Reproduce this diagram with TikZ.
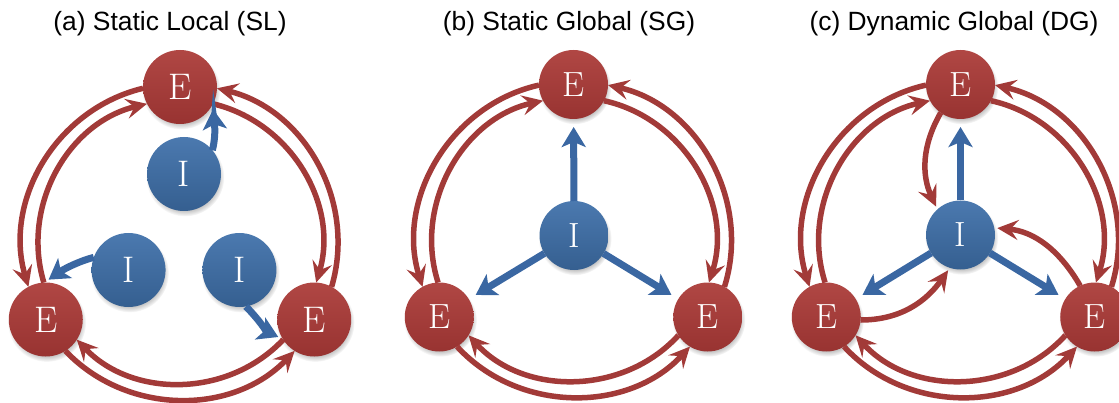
\documentclass[tikz,border=0pt]{standalone}
\usepackage{fontspec}
\newfontfamily\titlefont{Liberation Sans}
\usetikzlibrary{arrows.meta,shadows,fadings}
\definecolor{rtop}{HTML}{B04744}
\definecolor{rbot}{HTML}{983331}
\definecolor{btop}{HTML}{4B79AF}
\definecolor{bbot}{HTML}{355F90}
\definecolor{rl}{HTML}{A23A38}
\definecolor{bl}{HTML}{3A67A2}
\tikzset{
 nodebase/.style={circle, inner sep=0pt, outer sep=0pt, text=white,
   circular drop shadow={shadow xshift=1pt, shadow yshift=-3pt, shadow scale=1.06, opacity=0.45}},
 enode/.style={nodebase, top color=rtop, bottom color=rbot},
 inode/.style={nodebase, top color=btop, bottom color=bbot},
 bignode/.style={minimum size=74pt, font=\fontsize{37}{37}\selectfont},
 smallnode/.style={minimum size=69pt, font=\fontsize{35}{35}\selectfont},
 rline/.style={draw=rl, line width=5.5pt, -{Stealth[length=21pt,width=20pt,inset=8pt]}},
 bline/.style={draw=bl, line width=7pt, -{Stealth[length=20pt,width=24pt,inset=5pt]}},
 title/.style={font=\titlefont\fontsize{26.4}{30}\selectfont, anchor=base},
}
% double ring of arcs between the three E nodes of a panel
\newcommand\drawring[2]{%
  \pgfmathsetmacro\dO{acos((1.58*1.58+1.55*1.55-(#2/100)^2)/(2*1.58*1.55))}%
  \pgfmathsetmacro\aO{atan2(1.58*sin(\dO),1.58*cos(\dO)-1.55)}%
  \pgfmathsetmacro\dI{acos((1.42*1.42+1.55*1.55-(#2/100)^2)/(2*1.42*1.55))}%
  \pgfmathsetmacro\aI{atan2(1.42*sin(\dI),1.42*cos(\dI)-1.55)}%
  \foreach \k in {0,1,2}{%
    \pgfmathtruncatemacro\kk{mod(\k+1,3)}%
    \pgfmathtruncatemacro\th{90+120*\k}%
    \pgfmathtruncatemacro\sA{round(\th+\aO)}%
    \pgfmathtruncatemacro\eA{round(\th+120-\aO)}%
    \pgfmathsetmacro\oA{\th+\dO+90}%
    \pgfmathsetmacro\iA{\th+30-\dO}%
    \draw[rline] (#1E\k.\sA) to[out=\oA, in=\iA] (#1E\kk.\eA);
    \pgfmathtruncatemacro\sB{round(\th+120-\aI)}%
    \pgfmathtruncatemacro\eB{round(\th+\aI)}%
    \pgfmathsetmacro\oB{\th+30-\dI}%
    \pgfmathsetmacro\iB{\th+\dI+90}%
    \draw[rline] (#1E\kk.\sB) to[out=\oB, in=\iB] (#1E\k.\eB);
  }%
}
\begin{document}
\begin{tikzpicture}[x=1pt,y=1pt]
\useasboundingbox (0,0) rectangle (1119,402);
\clip (0,0) rectangle (1119,402);

% titles
\node[title] (ta) at (170,371) {(a) Static Local (SL)};
\node[title] (tb) at (569,371) {(b) Static Global (SG)};
\node[title] (tc) at (954,371) {(c) Dynamic Global (DG)};

% ---------- panel (a)
\begin{scope}[shift={(180,160)}]
  \foreach \k in {0,1,2}{\node[enode,bignode] (aE\k) at (90+120*\k:155) {E};}
\end{scope}
\begin{scope}[shift={(184,164)}]
  \foreach \k in {0,1,2}{\node[inode,bignode] (aI\k) at (90+120*\k:64) {I};}
\end{scope}
\drawring{a}{37}
\foreach \k in {0,1,2}{%
  \pgfmathtruncatemacro\th{90+120*\k}%
  \pgfmathtruncatemacro\sa{\th-50}%
  \pgfmathtruncatemacro\ea{\th-118}%
  \pgfmathtruncatemacro\oa{\th-15}%
  \pgfmathtruncatemacro\ia{\th+185}%
  \draw[bline, shorten >=5pt] (aI\k.\sa) to[out=\oa, in=\ia, looseness=0.9] (aE\k.\ea);
}

% ---------- panel (b)
\begin{scope}[shift={(573.5,162.5)}]
  \foreach \k in {0,1,2}{\node[enode,smallnode] (bE\k) at (90+120*\k:155) {E};}
  \node[inode,smallnode] (bI) at (0.5,4) {I};
\end{scope}
\drawring{b}{34.5}
\foreach \k in {0,1,2}{\draw[bline, shorten >=8pt] (bI) -- (bE\k);}

% ---------- panel (c)
\begin{scope}[shift={(960.5,162.5)}]
  \foreach \k in {0,1,2}{\node[enode,smallnode] (cE\k) at (90+120*\k:155) {E};}
  \node[inode,smallnode] (cI) at (0,4.5) {I};
\end{scope}
\drawring{c}{34.5}
\foreach \k in {0,1,2}{\draw[bline, shorten >=8pt] (cI) -- (cE\k);}
\foreach \k in {0,1,2}{%
  \pgfmathtruncatemacro\th{90+120*\k}%
  \pgfmathtruncatemacro\sc{\th+145}%
  \pgfmathtruncatemacro\ec{\th+42}%
  \pgfmathtruncatemacro\oc{\th+150}%
  \pgfmathtruncatemacro\ic{\th+25}%
  \draw[rline, shorten >=3pt] (cE\k.\sc) to[out=\oc, in=\ic] (cI.\ec);
}
\end{tikzpicture}
\end{document}
